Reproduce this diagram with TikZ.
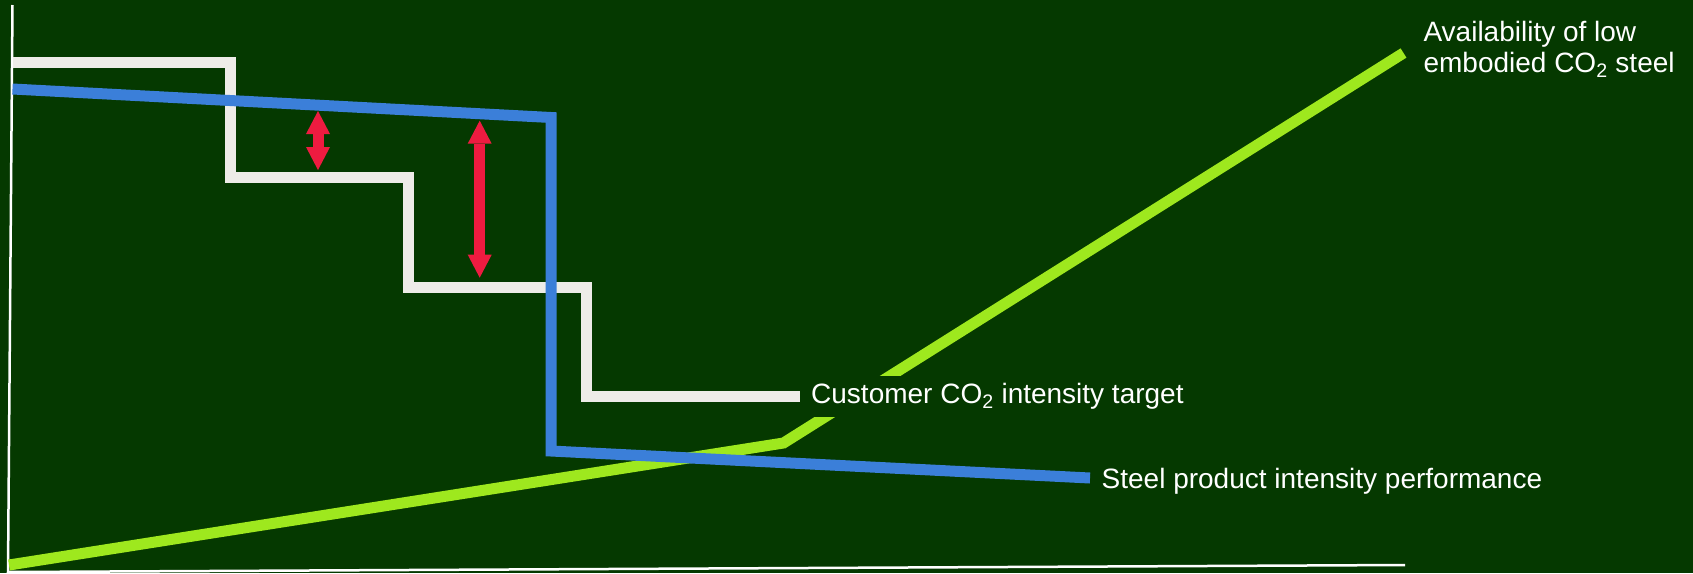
\documentclass[tikz,border=0pt]{standalone}
\usepackage{fontspec}
\setmainfont{Liberation Sans}
\usetikzlibrary{arrows.meta,positioning}

\definecolor{bggreen}{RGB}{5,57,0}
\definecolor{targetwhite}{RGB}{238,236,232}
\definecolor{perfblue}{RGB}{59,127,217}
\definecolor{availgreen}{RGB}{158,232,30}
\definecolor{gapred}{RGB}{238,27,64}

\begin{document}
\begin{tikzpicture}[x=1pt,y=-1pt,
    every node/.style={text=white,font=\fontsize{28pt}{31pt}\selectfont},
    axis/.style={draw=white,line width=2.5pt},
    series/.style={line width=11pt,miter limit=10},
    gap/.style={draw=gapred,line width=11pt,
        {Triangle[width=24pt,length=23pt,line width=0pt]}-{Triangle[width=24pt,length=23pt,line width=0pt]}},
    tag/.style={inner xsep=3pt,inner ysep=7pt,text height=21pt,text depth=6pt}]

\useasboundingbox (0,0) rectangle (1693,573);
\fill[bggreen] (0,0) rectangle (1693,573);

% Axes
\coordinate (y_top) at (12.5,5);
\coordinate (origin) at (8,572);
\coordinate (x_end) at (1405,565);
\draw[axis] (y_top) -- (origin) -- (x_end);

% Curves
\draw[series, draw=availgreen]
    (9,565) -- (783.5,443) -- (1403.5,53) coordinate (avail_end);
\draw[series, draw=targetwhite]
    (12.5,62.5) -| (230,177) -| (408,287) -| (586,396) -- (800,396) coordinate (target_end);
\draw[series, draw=perfblue]
    (12.5,89) -- (551,117.5) -- (551,451) -- (1090,478) coordinate (perf_end);

% Gaps
\coordinate (gap_a_top) at (318,111);
\coordinate (gap_a_bot) at (318,170);
\coordinate (gap_b_top) at (479.7,120.7);
\coordinate (gap_b_bot) at (479.7,277.7);
\draw[gap] (gap_a_top) -- (gap_a_bot);
\draw[gap] (gap_b_top) -- (gap_b_bot);

% Labels
\node[  tag,
        fill=bggreen,
        right=8pt of target_end
    ] (label_target) {Customer CO\textsubscript{2} intensity target};
\node[  tag,
        right=8.5pt of perf_end,
        yshift=-2.8pt
    ] (label_perf) {Steel product intensity performance};
\node[  align=left,
        right=16.5pt of avail_end,
        yshift=4pt
    ] (label_avail) {Availability of low\\embodied CO\textsubscript{2} steel};
\end{tikzpicture}
\end{document}
